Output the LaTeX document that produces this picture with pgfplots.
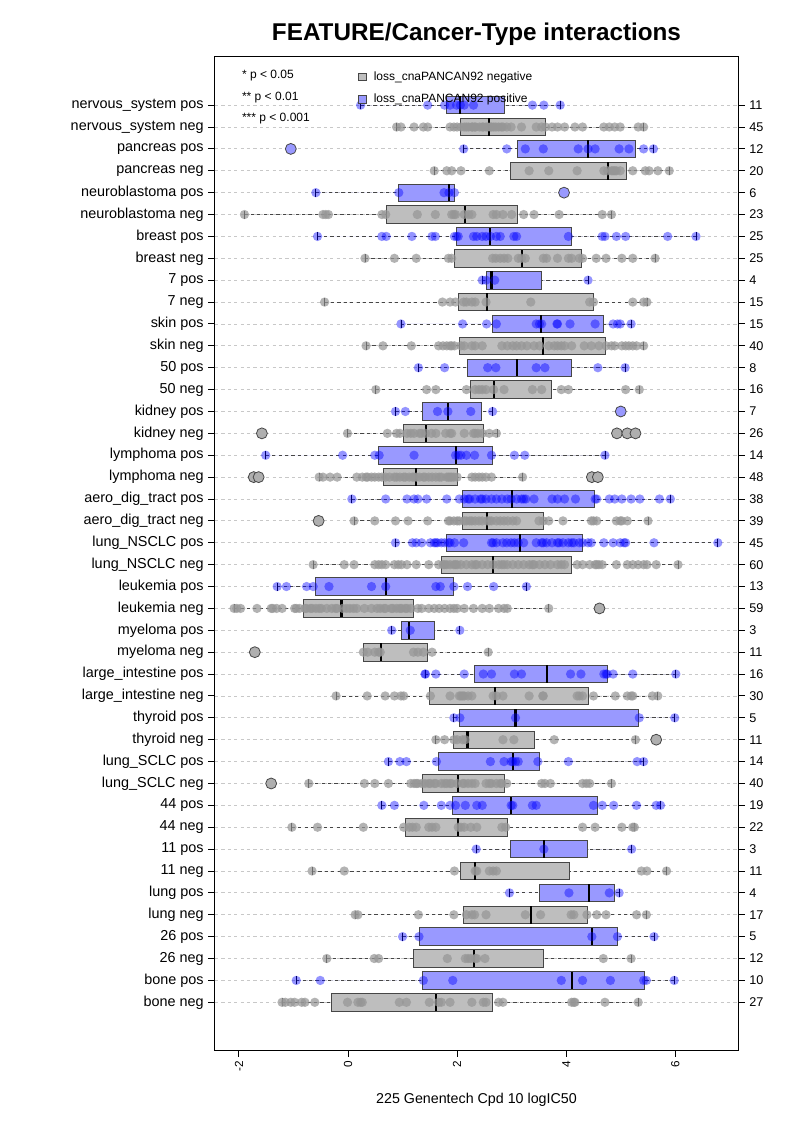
\documentclass[border=0pt]{standalone}
\usepackage{fontspec}
\setmainfont{Liberation Sans}
\usepackage{pgfplots}
\pgfplotsset{compat=1.18}
\usepgfplotslibrary{statistics}

\definecolor{negfill}{RGB}{190,190,190}
\definecolor{posfill}{RGB}{153,153,255}
\definecolor{boxline}{RGB}{70,70,70}
\definecolor{gridc}{RGB}{200,200,200}
\definecolor{ptgray}{RGB}{150,150,150}
\definecolor{outgray}{RGB}{175,175,175}

\pgfplotsset{
  boxplot/draw/lower whisker/.code={%
    \draw[/pgfplots/boxplot/every whisker/.try]
      (boxplot cs:\pgfplotsboxplotvalue{lower whisker}) --
      (boxplot cs:\pgfplotsboxplotvalue{lower quartile});
    \draw[black, line width=0.6pt, solid]
      (boxplot box cs:\pgfplotsboxplotvalue{lower whisker},0.27) --
      (boxplot box cs:\pgfplotsboxplotvalue{lower whisker},0.73);
  },
  boxplot/draw/upper whisker/.code={%
    \draw[/pgfplots/boxplot/every whisker/.try]
      (boxplot cs:\pgfplotsboxplotvalue{upper whisker}) --
      (boxplot cs:\pgfplotsboxplotvalue{upper quartile});
    \draw[black, line width=0.6pt, solid]
      (boxplot box cs:\pgfplotsboxplotvalue{upper whisker},0.27) --
      (boxplot box cs:\pgfplotsboxplotvalue{upper whisker},0.73);
  },
  negbox/.style={forget plot, draw=boxline, fill=negfill, line width=0.6pt},
  posbox/.style={forget plot, draw=boxline, fill=posfill, line width=0.6pt},
  graypt/.style={forget plot, only marks, mark=*, mark size=3.5pt,
    mark options={draw opacity=0, fill=ptgray, fill opacity=0.72}},
  bluept/.style={forget plot, only marks, mark=*, mark size=3.5pt,
    mark options={draw opacity=0, fill=blue, fill opacity=0.42}},
  grayout/.style={forget plot, only marks, mark=*, mark size=4.1pt,
    mark options={draw=boxline, fill=outgray, line width=0.6pt}},
  blueout/.style={forget plot, only marks, mark=*, mark size=4.1pt,
    mark options={draw=boxline, fill=posfill, line width=0.6pt}},
}

\begin{document}
\begin{tikzpicture}
\path[use as bounding box] (-161.25pt,-54pt) rectangle (433.5pt,787.5pt);

\begin{axis}[
    scale only axis,
    width=392.25pt, height=744.75pt,
    xmin=-2.44, xmax=7.15,
    ymin=-1.18, ymax=44.2,
    boxplot/draw direction=x,
    boxplot/box extend=0.8,
    boxplot/every whisker/.style={draw=boxline, line width=0.6pt, dash pattern=on 2.4pt off 2.4pt},
    boxplot/every median/.style={draw=black, line width=1.6pt},
    axis line style={black, line width=0.75pt},
    tick style={black, line width=0.75pt},
    tick align=outside,
    major tick length=5pt,
    xtick pos=bottom, ytick pos=left,
    xtick={-2,0,2,4,6},
    xticklabels={-2,0,2,4,6},
    xticklabel style={rotate=90, anchor=east, font=\fontsize{8.8}{10}\selectfont},
    ytick={1,...,42},
    yticklabels={bone neg, bone pos, 26 neg, 26 pos, lung neg, lung pos, 11 neg, 11 pos,
      44 neg, 44 pos, lung\_SCLC neg, lung\_SCLC pos, thyroid neg, thyroid pos,
      large\_intestine neg, large\_intestine pos, myeloma neg, myeloma pos,
      leukemia neg, leukemia pos, lung\_NSCLC neg, lung\_NSCLC pos,
      aero\_dig\_tract neg, aero\_dig\_tract pos, lymphoma neg, lymphoma pos,
      kidney neg, kidney pos, 50 neg, 50 pos, skin neg, skin pos, 7 neg, 7 pos,
      breast neg, breast pos, neuroblastoma neg, neuroblastoma pos,
      pancreas neg, pancreas pos, nervous\_system neg, nervous\_system pos},
    yticklabel style={font=\fontsize{10.8}{12}\selectfont},
    ymajorgrids,
    major grid style={draw=gridc, line width=0.6pt, dash pattern=on 2.4pt off 2.4pt},
    title={FEATURE/Cancer-Type interactions},
    title style={font=\bfseries\fontsize{18.2}{21}\selectfont, at={(0.5,1)}, anchor=base, yshift=6.5pt},
    xlabel={225 Genentech Cpd 10 logIC50},
    xlabel style={font=\fontsize{10.7}{12}\selectfont, at={(0.5,0)}, anchor=base, yshift=-40pt},
    legend style={at={(axis cs:0.10,43.72)}, anchor=north west, draw=none, fill=none,
      font=\fontsize{9}{10}\selectfont, row sep=7pt,
      nodes={inner sep=0.5pt, text height=6.8pt, text depth=2pt}},
    legend cell align=left,
]

% boxes (lower whisker, quartiles, median, upper whisker)
\addplot[negbox, boxplot prepared={draw position=1, lower whisker=-1.21, lower quartile=-0.30, median=1.62, upper quartile=2.65, upper whisker=5.32}] coordinates {};
\addplot[posbox, boxplot prepared={draw position=2, lower whisker=-0.95, lower quartile=1.37, median=4.10, upper quartile=5.43, upper whisker=5.98}] coordinates {};
\addplot[negbox, boxplot prepared={draw position=3, lower whisker=-0.39, lower quartile=1.20, median=2.31, upper quartile=3.59, upper whisker=5.19}] coordinates {};
\addplot[posbox, boxplot prepared={draw position=4, lower whisker=1.00, lower quartile=1.30, median=4.47, upper quartile=4.94, upper whisker=5.61}] coordinates {};
\addplot[negbox, boxplot prepared={draw position=5, lower whisker=0.13, lower quartile=2.11, median=3.36, upper quartile=4.38, upper whisker=5.47}] coordinates {};
\addplot[posbox, boxplot prepared={draw position=6, lower whisker=2.96, lower quartile=3.51, median=4.42, upper quartile=4.88, upper whisker=4.97}] coordinates {};
\addplot[negbox, boxplot prepared={draw position=7, lower whisker=-0.66, lower quartile=2.06, median=2.33, upper quartile=4.05, upper whisker=5.84}] coordinates {};
\addplot[posbox, boxplot prepared={draw position=8, lower whisker=2.35, lower quartile=2.97, median=3.59, upper quartile=4.39, upper whisker=5.20}] coordinates {};
\addplot[negbox, boxplot prepared={draw position=9, lower whisker=-1.03, lower quartile=1.06, median=2.02, upper quartile=2.92, upper whisker=5.25}] coordinates {};
\addplot[posbox, boxplot prepared={draw position=10, lower whisker=0.62, lower quartile=1.92, median=2.99, upper quartile=4.58, upper whisker=5.73}] coordinates {};
\addplot[negbox, boxplot prepared={draw position=11, lower whisker=-0.72, lower quartile=1.36, median=2.02, upper quartile=2.86, upper whisker=4.83}] coordinates {};
\addplot[posbox, boxplot prepared={draw position=12, lower whisker=0.74, lower quartile=1.66, median=3.03, upper quartile=3.50, upper whisker=5.42}] coordinates {};
\addplot[negbox, boxplot prepared={draw position=13, lower whisker=1.61, lower quartile=1.94, median=2.19, upper quartile=3.41, upper whisker=5.27}] coordinates {};
\addplot[posbox, boxplot prepared={draw position=14, lower whisker=1.94, lower quartile=2.04, median=3.07, upper quartile=5.33, upper whisker=5.99}] coordinates {};
\addplot[negbox, boxplot prepared={draw position=15, lower whisker=-0.22, lower quartile=1.49, median=2.69, upper quartile=4.41, upper whisker=5.68}] coordinates {};
\addplot[posbox, boxplot prepared={draw position=16, lower whisker=1.41, lower quartile=2.32, median=3.64, upper quartile=4.75, upper whisker=6.01}] coordinates {};
\addplot[negbox, boxplot prepared={draw position=17, lower whisker=0.28, lower quartile=0.28, median=0.61, upper quartile=1.45, upper whisker=2.57}] coordinates {};
\addplot[posbox, boxplot prepared={draw position=18, lower whisker=0.80, lower quartile=0.97, median=1.12, upper quartile=1.59, upper whisker=2.05}] coordinates {};
\addplot[negbox, boxplot prepared={draw position=19, lower whisker=-2.09, lower quartile=-0.81, median=-0.12, upper quartile=1.20, upper whisker=3.68}] coordinates {};
\addplot[posbox, boxplot prepared={draw position=20, lower whisker=-1.30, lower quartile=-0.60, median=0.70, upper quartile=1.94, upper whisker=3.27}] coordinates {};
\addplot[negbox, boxplot prepared={draw position=21, lower whisker=-0.64, lower quartile=1.71, median=2.65, upper quartile=4.09, upper whisker=6.05}] coordinates {};
\addplot[posbox, boxplot prepared={draw position=22, lower whisker=0.87, lower quartile=1.81, median=3.15, upper quartile=4.29, upper whisker=6.78}] coordinates {};
\addplot[negbox, boxplot prepared={draw position=23, lower whisker=0.11, lower quartile=2.10, median=2.55, upper quartile=3.59, upper whisker=5.50}] coordinates {};
\addplot[posbox, boxplot prepared={draw position=24, lower whisker=0.07, lower quartile=2.10, median=3.00, upper quartile=4.52, upper whisker=5.91}] coordinates {};
\addplot[negbox, boxplot prepared={draw position=25, lower whisker=-0.53, lower quartile=0.64, median=1.25, upper quartile=2.00, upper whisker=3.20}] coordinates {};
\addplot[posbox, boxplot prepared={draw position=26, lower whisker=-1.51, lower quartile=0.55, median=1.98, upper quartile=2.64, upper whisker=4.71}] coordinates {};
\addplot[negbox, boxplot prepared={draw position=27, lower whisker=-0.01, lower quartile=1.02, median=1.43, upper quartile=2.48, upper whisker=2.74}] coordinates {};
\addplot[posbox, boxplot prepared={draw position=28, lower whisker=0.87, lower quartile=1.37, median=1.83, upper quartile=2.44, upper whisker=2.65}] coordinates {};
\addplot[negbox, boxplot prepared={draw position=29, lower whisker=0.51, lower quartile=2.25, median=2.67, upper quartile=3.73, upper whisker=5.34}] coordinates {};
\addplot[posbox, boxplot prepared={draw position=30, lower whisker=1.29, lower quartile=2.18, median=3.09, upper quartile=4.10, upper whisker=5.08}] coordinates {};
\addplot[negbox, boxplot prepared={draw position=31, lower whisker=0.33, lower quartile=2.04, median=3.57, upper quartile=4.71, upper whisker=5.42}] coordinates {};
\addplot[posbox, boxplot prepared={draw position=32, lower whisker=0.97, lower quartile=2.64, median=3.53, upper quartile=4.68, upper whisker=5.19}] coordinates {};
\addplot[negbox, boxplot prepared={draw position=33, lower whisker=-0.43, lower quartile=2.03, median=2.55, upper quartile=4.49, upper whisker=5.48}] coordinates {};
\addplot[posbox, boxplot prepared={draw position=34, lower whisker=2.46, lower quartile=2.53, median=2.63, upper quartile=3.55, upper whisker=4.40}] coordinates {};
\addplot[negbox, boxplot prepared={draw position=35, lower whisker=0.31, lower quartile=1.95, median=3.19, upper quartile=4.27, upper whisker=5.63}] coordinates {};
\addplot[posbox, boxplot prepared={draw position=36, lower whisker=-0.56, lower quartile=1.98, median=2.61, upper quartile=4.10, upper whisker=6.38}] coordinates {};
\addplot[negbox, boxplot prepared={draw position=37, lower whisker=-1.90, lower quartile=0.70, median=2.15, upper quartile=3.11, upper whisker=4.83}] coordinates {};
\addplot[posbox, boxplot prepared={draw position=38, lower whisker=-0.59, lower quartile=0.93, median=1.85, upper quartile=1.95, upper whisker=1.95}] coordinates {};
\addplot[negbox, boxplot prepared={draw position=39, lower whisker=1.58, lower quartile=2.97, median=4.77, upper quartile=5.10, upper whisker=5.89}] coordinates {};
\addplot[posbox, boxplot prepared={draw position=40, lower whisker=2.12, lower quartile=3.10, median=4.40, upper quartile=5.27, upper whisker=5.60}] coordinates {};
\addplot[negbox, boxplot prepared={draw position=41, lower whisker=0.89, lower quartile=2.06, median=2.59, upper quartile=3.62, upper whisker=5.42}] coordinates {};
\addplot[posbox, boxplot prepared={draw position=42, lower whisker=0.23, lower quartile=1.81, median=2.06, upper quartile=2.86, upper whisker=3.89}] coordinates {};

% cell lines, loss_cnaPANCAN92 negative
\addplot[graypt] coordinates {
(0.89,41)(0.97,41)(1.21,41)(1.38,41)(1.46,41)(1.87,41)(1.94,41)(2.00,41)(2.07,41)(2.13,41)(2.17,41)(2.21,41)(2.27,41)(2.28,41)(2.32,41)
(2.34,41)(2.41,41)(2.46,41)(2.48,41)(2.53,41)(2.56,41)(2.61,41)(2.63,41)(2.67,41)(2.71,41)(2.76,41)(2.81,41)(2.84,41)(2.91,41)(2.99,41)
(3.18,41)(3.45,41)(3.55,41)(3.62,41)(3.74,41)(3.84,41)(3.97,41)(4.16,41)(4.30,41)(4.69,41)(4.79,41)(4.89,41)(4.99,41)(5.32,41)(5.42,41)
(1.58,39)(1.81,39)(1.90,39)(2.07,39)(2.59,39)(3.32,39)(3.68,39)(4.20,39)(4.69,39)(4.76,39)(4.83,39)(4.86,39)(4.89,39)(4.92,39)(4.99,39)
(5.22,39)(5.45,39)(5.52,39)(5.68,39)(5.89,39)
(-1.90,37)(-0.46,37)(-0.41,37)(-0.36,37)(0.62,37)(0.69,37)(1.27,37)(1.60,37)(1.90,37)(1.94,37)(1.97,37)(2.13,37)(2.21,37)(2.27,37)(2.66,37)
(2.72,37)(2.84,37)(3.00,37)(3.22,37)(3.41,37)(3.87,37)(4.66,37)(4.83,37)
(0.31,35)(0.85,35)(1.25,35)(1.84,35)(1.90,35)(2.65,35)(2.71,35)(2.79,35)(2.86,35)(2.93,35)(3.12,35)(3.18,35)(3.25,35)(3.58,35)(3.64,35)
(3.84,35)(4.04,35)(4.10,35)(4.24,35)(4.30,35)(4.55,35)(4.73,35)(5.02,35)(5.22,35)(5.63,35)
(-0.43,33)(1.73,33)(1.87,33)(1.97,33)(2.12,33)(2.17,33)(2.27,33)(2.33,33)(2.53,33)(3.35,33)(4.43,33)(4.50,33)(5.22,33)(5.42,33)(5.48,33)
(0.33,31)(0.64,31)(1.16,31)(1.66,31)(1.74,31)(1.81,31)(1.87,31)(1.90,31)(1.95,31)(2.07,31)(2.13,31)(2.27,31)(2.33,31)(2.46,31)(2.82,31)
(2.92,31)(3.02,31)(3.09,31)(3.18,31)(3.28,31)(3.41,31)(3.51,31)(3.68,31)(3.78,31)(3.84,31)(3.91,31)(3.97,31)(4.10,31)(4.33,31)(4.46,31)
(4.60,31)(4.73,31)(4.83,31)(4.89,31)(5.02,31)(5.09,31)(5.15,31)(5.22,31)(5.29,31)(5.42,31)
(0.51,29)(1.44,29)(1.61,29)(2.17,29)(2.33,29)(2.40,29)(2.46,29)(2.53,29)(2.67,29)(2.86,29)(3.38,29)(3.55,29)(3.91,29)(4.04,29)(5.09,29)(5.34,29)
(-0.01,27)(0.72,27)(0.89,27)(0.95,27)(1.08,27)(1.15,27)(1.21,27)(1.31,27)(1.35,27)(1.42,27)(1.53,27)(1.61,27)(1.79,27)(1.87,27)(1.90,27)
(2.13,27)(2.30,27)(2.33,27)(2.38,27)(2.46,27)(2.59,27)(2.72,27)
(-0.53,25)(-0.46,25)(-0.33,25)(-0.20,25)(0.16,25)(0.26,25)(0.33,25)(0.36,25)(0.43,25)(0.49,25)(0.56,25)(0.62,25)(0.69,25)(0.76,25)(0.85,25)
(0.89,25)(0.95,25)(1.02,25)(1.05,25)(1.12,25)(1.18,25)(1.21,25)(1.25,25)(1.31,25)(1.38,25)(1.41,25)(1.48,25)(1.54,25)(1.61,25)(1.67,25)
(1.71,25)(1.81,25)(1.84,25)(1.87,25)(1.90,25)(1.94,25)(2.00,25)(2.27,25)(2.33,25)(2.40,25)(2.46,25)(2.53,25)(2.63,25)(3.20,25)
(0.11,23)(0.49,23)(0.87,23)(1.10,23)(1.46,23)(1.84,23)(1.87,23)(1.94,23)(2.00,23)(2.04,23)(2.13,23)(2.17,23)(2.23,23)(2.27,23)(2.33,23)
(2.40,23)(2.46,23)(2.55,23)(2.59,23)(2.63,23)(2.72,23)(2.79,23)(2.86,23)(2.93,23)(3.02,23)(3.09,23)(3.50,23)(3.58,23)(3.68,23)(3.94,23)
(4.46,23)(4.50,23)(4.56,23)(4.92,23)(4.99,23)(5.02,23)(5.12,23)(5.50,23)
(-0.64,21)(-0.07,21)(0.11,21)(0.49,21)(0.56,21)(0.62,21)(0.69,21)(0.85,21)(0.92,21)(0.98,21)(1.08,21)(1.25,21)(1.48,21)(1.66,21)(1.74,21)
(1.77,21)(1.81,21)(1.87,21)(1.94,21)(1.97,21)(2.00,21)(2.07,21)(2.17,21)(2.27,21)(2.33,21)(2.36,21)(2.46,21)(2.56,21)(2.66,21)(2.76,21)
(2.82,21)(2.86,21)(2.92,21)(3.02,21)(3.12,21)(3.22,21)(3.32,21)(3.38,21)(3.41,21)(3.51,21)(3.61,21)(3.71,21)(3.84,21)(3.91,21)(3.97,21)
(4.20,21)(4.30,21)(4.43,21)(4.53,21)(4.56,21)(4.60,21)(4.66,21)(4.92,21)(5.12,21)(5.22,21)(5.32,21)(5.42,21)(5.48,21)(5.65,21)(6.05,21)
(-2.09,19)(-2.04,19)(-1.97,19)(-1.67,19)(-1.41,19)(-1.38,19)(-1.31,19)(-1.21,19)(-0.98,19)(-0.95,19)(-0.89,19)(-0.79,19)(-0.76,19)(-0.69,19)(-0.66,19)
(-0.59,19)(-0.53,19)(-0.49,19)(-0.39,19)(-0.30,19)(-0.23,19)(-0.20,19)(-0.10,19)(-0.03,19)(0.03,19)(0.10,19)(0.16,19)(0.30,19)(0.43,19)(0.53,19)
(0.59,19)(0.66,19)(0.69,19)(0.79,19)(0.82,19)(0.89,19)(0.95,19)(0.98,19)(1.05,19)(1.08,19)(1.15,19)(1.28,19)(1.35,19)(1.48,19)(1.58,19)
(1.67,19)(1.77,19)(1.87,19)(1.94,19)(2.00,19)(2.13,19)(2.30,19)(2.46,19)(2.59,19)(2.76,19)(2.86,19)(2.92,19)(3.68,19)
(0.28,17)(0.36,17)(0.49,17)(0.56,17)(0.59,17)(1.20,17)(1.28,17)(1.38,17)(1.54,17)(2.57,17)
(-0.22,15)(0.35,15)(0.68,15)(0.85,15)(0.97,15)(1.02,15)(1.51,15)(1.87,15)(2.04,15)(2.07,15)(2.10,15)(2.13,15)(2.20,15)(2.27,15)(2.66,15)
(2.72,15)(2.84,15)(3.32,15)(3.57,15)(3.58,15)(4.20,15)(4.24,15)(4.30,15)(4.50,15)(4.90,15)(5.12,15)(5.19,15)(5.22,15)(5.58,15)(5.68,15)
(1.61,13)(1.77,13)(1.94,13)(2.00,13)(2.10,13)(2.15,13)(2.84,13)(3.04,13)(3.78,13)(5.27,13)
(-0.72,11)(0.30,11)(0.49,11)(0.74,11)(1.15,11)(1.21,11)(1.25,11)(1.28,11)(1.35,11)(1.41,11)(1.48,11)(1.51,11)(1.58,11)(1.61,11)(1.71,11)
(1.77,11)(1.81,11)(1.87,11)(1.90,11)(2.00,11)(2.10,11)(2.13,11)(2.20,11)(2.27,11)(2.33,11)(2.53,11)(2.59,11)(2.63,11)(2.72,11)(2.79,11)
(2.82,11)(2.91,11)(3.55,11)(3.61,11)(3.71,11)(4.30,11)(4.37,11)(4.43,11)(4.83,11)
(-1.03,9)(-0.56,9)(0.28,9)(1.02,9)(1.12,9)(1.18,9)(1.25,9)(1.48,9)(1.54,9)(1.61,9)(2.02,9)(2.07,9)(2.13,9)(2.25,9)(2.36,9)
(2.82,9)(2.89,9)(4.30,9)(4.53,9)(5.02,9)(5.22,9)(5.25,9)
(-0.66,7)(-0.07,7)(1.95,7)(2.33,7)(2.36,7)(2.59,7)(2.66,7)(2.72,7)(5.38,7)(5.48,7)(5.84,7)
(0.13,5)(0.18,5)(1.29,5)(1.94,5)(2.17,5)(2.27,5)(2.32,5)(2.53,5)(3.25,5)(3.53,5)(4.09,5)(4.14,5)(4.38,5)(4.56,5)(4.73,5)(5.29,5)(5.47,5)
(-0.39,3)(0.48,3)(0.56,3)(1.82,3)(2.15,3)(2.20,3)(2.25,3)(2.33,3)(2.36,3)(2.51,3)(4.68,3)(5.19,3)
(-1.21,1)(-1.15,1)(-1.05,1)(-0.98,1)(-0.85,1)(-0.79,1)(-0.61,1)(-0.01,1)(0.18,1)(0.23,1)(0.26,1)(0.94,1)(1.07,1)(1.49,1)(1.66,1)
(1.71,1)(1.87,1)(2.27,1)(2.48,1)(2.53,1)(2.76,1)(2.84,1)(4.10,1)(4.14,1)(4.16,1)(4.71,1)(5.32,1)
};

% cell lines, loss_cnaPANCAN92 positive
\addplot[bluept] coordinates {
(0.23,42)(1.46,42)(1.77,42)(1.87,42)(1.99,42)(2.06,42)(2.13,42)(2.30,42)(3.38,42)(3.59,42)(3.89,42)
(2.12,40)(2.91,40)(3.25,40)(3.58,40)(4.22,40)(4.40,40)(4.53,40)(4.97,40)(5.15,40)(5.42,40)(5.60,40)
(-0.59,38)(0.93,38)(1.76,38)(1.85,38)(1.95,38)
(-0.56,36)(0.62,36)(0.70,36)(1.17,36)(1.54,36)(1.60,36)(1.95,36)(1.99,36)(2.02,36)(2.30,36)(2.36,36)(2.46,36)(2.53,36)(2.61,36)(2.72,36)
(2.79,36)(3.04,36)(3.09,36)(4.04,36)(4.66,36)(4.71,36)(4.92,36)(5.09,36)(5.86,36)(6.38,36)
(2.46,34)(2.53,34)(2.69,34)(4.40,34)
(0.97,32)(2.10,32)(2.54,32)(2.72,32)(3.45,32)(3.51,32)(3.55,32)(3.83,32)(3.84,32)(4.07,32)(4.53,32)(4.86,32)(4.94,32)(4.99,32)(5.19,32)
(1.29,30)(1.77,30)(2.56,30)(2.71,30)(3.45,30)(3.61,30)(4.58,30)(5.08,30)
(0.87,28)(1.05,28)(1.64,28)(1.83,28)(2.25,28)(2.65,28)
(-1.51,26)(-0.10,26)(0.49,26)(0.57,26)(1.21,26)(1.97,26)(2.02,26)(2.07,26)(2.17,26)(2.32,26)(2.63,26)(3.05,26)(3.24,26)(4.71,26)
(0.07,24)(0.69,24)(1.08,24)(1.21,24)(1.28,24)(1.44,24)(1.81,24)(2.04,24)(2.13,24)(2.20,24)(2.23,24)(2.33,24)(2.43,24)(2.46,24)(2.53,24)
(2.63,24)(2.72,24)(2.82,24)(2.92,24)(2.99,24)(3.09,24)(3.18,24)(3.22,24)(3.26,24)(3.41,24)(3.74,24)(3.84,24)(3.97,24)(4.17,24)(4.53,24)
(4.56,24)(4.79,24)(4.89,24)(5.02,24)(5.19,24)(5.35,24)(5.71,24)(5.91,24)
(0.87,22)(1.18,22)(1.25,22)(1.35,22)(1.51,22)(1.58,22)(1.61,22)(1.64,22)(1.71,22)(1.77,22)(1.84,22)(1.87,22)(1.95,22)(2.12,22)(2.63,22)
(2.66,22)(2.72,22)(2.84,22)(2.91,22)(2.99,22)(3.05,22)(3.12,22)(3.22,22)(3.45,22)(3.55,22)(3.58,22)(3.64,22)(3.74,22)(3.84,22)(3.87,22)
(3.94,22)(4.04,22)(4.10,22)(4.14,22)(4.24,22)(4.30,22)(4.40,22)(4.46,22)(4.69,22)(4.86,22)(4.99,22)(5.06,22)(5.09,22)(5.61,22)(6.78,22)
(-1.30,20)(-1.13,20)(-0.76,20)(-0.64,20)(-0.35,20)(0.43,20)(0.69,20)(1.61,20)(1.69,20)(1.94,20)(2.19,20)(2.67,20)(3.27,20)
(0.80,18)(1.14,18)(2.05,18)
(1.41,16)(1.42,16)(1.61,16)(2.13,16)(2.48,16)(2.63,16)(3.05,16)(3.18,16)(4.08,16)(4.27,16)(4.69,16)(4.73,16)(4.75,16)(4.86,16)(5.22,16)(6.01,16)
(1.94,14)(2.05,14)(3.07,14)(5.34,14)(5.99,14)
(0.74,12)(0.95,12)(1.07,12)(1.62,12)(2.61,12)(2.86,12)(2.99,12)(3.02,12)(3.07,12)(3.12,12)(3.48,12)(4.04,12)(5.30,12)(5.42,12)
(0.62,10)(0.85,10)(1.39,10)(1.71,10)(1.87,10)(1.97,10)(2.15,10)(2.36,10)(2.46,10)(2.99,10)(3.02,10)(3.38,10)(3.45,10)(4.50,10)(4.66,10)
(4.87,10)(5.29,10)(5.65,10)(5.73,10)
(2.35,8)(3.59,8)(5.20,8)
(2.96,6)(4.05,6)(4.79,6)(4.97,6)
(1.00,4)(1.30,4)(4.47,4)(4.94,4)(5.61,4)
(-0.95,2)(-0.51,2)(1.38,2)(1.92,2)(3.91,2)(4.30,2)(4.81,2)(5.42,2)(5.47,2)(5.98,2)
};

% outliers
\addplot[grayout] coordinates {
(-1.58,27)(4.93,27)(5.12,27)(5.27,27)(-1.73,25)(-1.64,25)(4.47,25)(4.58,25)
(-0.54,23)(4.61,19)(-1.71,17)(5.65,13)(-1.41,11)
};
\addplot[blueout] coordinates {(-1.05,40)(3.96,38)(5.00,28)};

\addlegendimage{legend image code/.code={\draw[draw=boxline, fill=negfill, line width=0.6pt] (0pt,-2.9pt) rectangle (5.8pt,2.9pt); \path (11pt,0pt);}}
\addlegendentry{loss\_cnaPANCAN92 negative}
\addlegendimage{legend image code/.code={\draw[draw=boxline, fill=posfill, line width=0.6pt] (0pt,-2.9pt) rectangle (5.8pt,2.9pt); \path (11pt,0pt);}}
\addlegendentry{loss\_cnaPANCAN92 positive}

\node[anchor=base west, font=\fontsize{9}{10}\selectfont] at (axis cs:-2.03,43.2) {* p < 0.05};
\node[anchor=base west, font=\fontsize{9}{10}\selectfont] at (axis cs:-2.03,42.2) {** p < 0.01};
\node[anchor=base west, font=\fontsize{9}{10}\selectfont] at (axis cs:-2.03,41.27) {*** p < 0.001};
\end{axis}

% group sizes on the right
\begin{axis}[
    scale only axis,
    width=392.25pt, height=744.75pt,
    xmin=-2.44, xmax=7.15,
    ymin=-1.18, ymax=44.2,
    hide x axis,
    axis line style={draw=none},
    tick style={black, line width=0.75pt},
    tick align=outside,
    major tick length=5pt,
    ytick pos=right,
    ytick={1,...,42},
    yticklabels={27,10,12,5,17,4,11,3,22,19,40,14,11,5,30,16,11,3,59,13,60,45,39,38,48,14,26,7,16,8,40,15,15,4,25,25,23,6,20,12,45,11},
    yticklabel style={font=\fontsize{9.5}{11}\selectfont, anchor=west},
]
\addplot[draw=none, forget plot] coordinates {(0,0)};
\end{axis}
\end{tikzpicture}
\end{document}
